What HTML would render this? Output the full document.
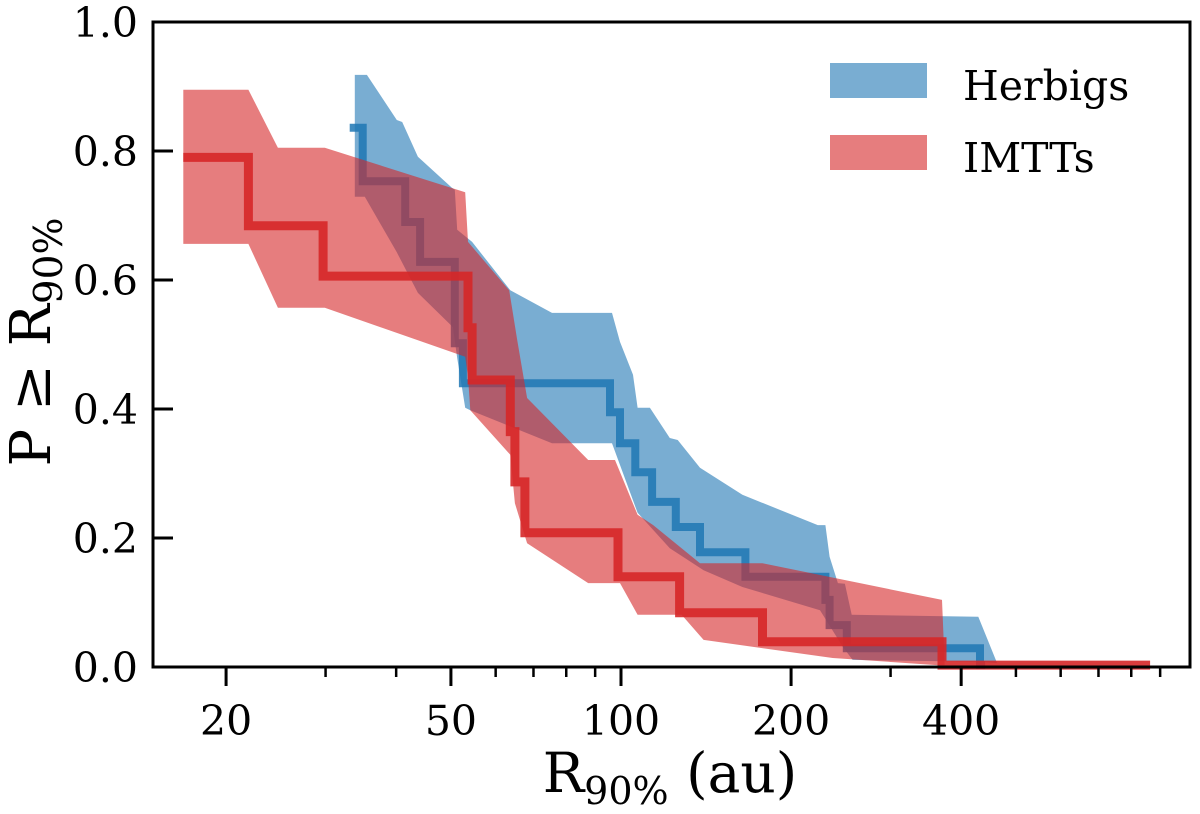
<!DOCTYPE html>
<html><head><meta charset="utf-8"><style>
html,body{margin:0;padding:0;background:#fff;}
svg text{font-family:"DejaVu Serif","Liberation Serif",serif;fill:#000;}
</style></head><body>
<svg id="chart" width="1200" height="809" viewBox="0 0 1200 809" xmlns="http://www.w3.org/2000/svg">
<g id="plot"></g>
<rect x="153" y="22" width="1037" height="645" fill="none" stroke="#000" stroke-width="3"/>
<g id="axes"></g>
<g>
<rect x="830" y="63" width="97" height="35" fill="#1f77b4" fill-opacity="0.6"/>
<text x="963" y="100" font-size="41">Herbigs</text>
<rect x="830" y="135" width="97" height="35" fill="#d62728" fill-opacity="0.6"/>
<text x="963" y="172" font-size="41">IMTTs</text>
</g>
<text x="670" y="792" font-size="55" text-anchor="middle">R<tspan font-size="38" dy="12">90%</tspan><tspan dy="-12"> (au)</tspan></text>
<text transform="translate(50,342) rotate(-90)" font-size="56" text-anchor="middle">P ≥ R<tspan font-size="39" dy="12">90%</tspan></text>
</svg>
<script>
// Step lines (x in au, y = survival value after each step)
const redStepX = [16.8, 21.9, 29.7, 53.6, 54.5, 63.7, 64.9, 67.6, 98.8, 127, 178, 370, 864];
const redStepY = [0.79, 0.684, 0.606, 0.526, 0.445, 0.365, 0.287, 0.208, 0.14, 0.084, 0.039, 0.003];
const blueStepX = [33.1, 34.9, 41.5, 44.1, 50.8, 52.5, 95.6, 99.6, 106, 113.5, 125, 138, 166, 230, 234, 251, 432, 441];
const blueStepY = [0.836, 0.753, 0.690, 0.628, 0.502, 0.440, 0.395, 0.347, 0.302, 0.256, 0.217, 0.178, 0.140, 0.104, 0.065, 0.029, 0.003];
// Confidence bands
const redUpX = [16.8, 21.9, 24.7, 29.9, 53.0, 53.6, 63.4, 65.5, 68.2, 87.5, 97.6, 107, 114, 138, 178, 370, 374];
const redUpY = [0.895, 0.895, 0.805, 0.805, 0.736, 0.659, 0.584, 0.507, 0.417, 0.321, 0.321, 0.236, 0.220, 0.161, 0.161, 0.104, 0.003];
const redLoX = [16.8, 21.9, 24.7, 29.9, 53.0, 53.6, 54.1, 63.7, 64.9, 68.2, 87.5, 99.6, 107, 128, 140, 237, 362, 374];
const redLoY = [0.656, 0.656, 0.557, 0.557, 0.481, 0.450, 0.398, 0.329, 0.254, 0.192, 0.130, 0.130, 0.081, 0.081, 0.042, 0.014, 0.003, 0.003];
const blueUpX = [33.8, 35.5, 40.1, 41.0, 43.7, 50.2, 50.8, 51.3, 54.5, 63.7, 75.5, 91.8, 96.4, 99.6, 105, 107, 112.5, 122, 126, 138, 164, 223, 230, 234, 242, 249, 256, 429, 463];
const blueUpY = [0.918, 0.918, 0.848, 0.845, 0.791, 0.743, 0.740, 0.678, 0.659, 0.584, 0.549, 0.549, 0.549, 0.504, 0.453, 0.402, 0.402, 0.355, 0.352, 0.309, 0.267, 0.220, 0.220, 0.171, 0.130, 0.129, 0.081, 0.078, 0.006];
const blueLoX = [33.8, 35.2, 40.1, 43.7, 50.4, 51.3, 53.0, 54.1, 75.5, 96.4, 107, 122, 140, 164, 225, 247, 257, 432, 463];
const blueLoY = [0.729, 0.729, 0.643, 0.580, 0.527, 0.479, 0.402, 0.398, 0.347, 0.347, 0.239, 0.184, 0.150, 0.124, 0.088, 0.031, 0.011, 0.008, 0.006];
// Ticks
const xMajorTicks = [20, 50, 100, 200, 400];
const xMinorTicks = [30, 40, 60, 70, 80, 90, 300, 500, 600, 700, 800, 900];
const yTicks = [0, 0.2, 0.4, 0.6, 0.8, 1.0];
const yTickLabels = ["0.0", "0.2", "0.4", "0.6", "0.8", "1.0"];

const NS = "http://www.w3.org/2000/svg";
const X = v => 621 + 565 * (Math.log10(v) - 2);
const Y = v => 667 - 645 * v;
const plot = document.getElementById('plot');
const axes = document.getElementById('axes');
function mk(tag, attrs, parent) {
  const e = document.createElementNS(NS, tag);
  for (const k in attrs) e.setAttribute(k, attrs[k]);
  parent.appendChild(e);
  return e;
}
function bandPath(ux, uy, lx, ly) {
  let d = '';
  ux.forEach((x, i) => { d += (i ? 'L' : 'M') + X(x).toFixed(1) + ',' + Y(uy[i]).toFixed(1); });
  for (let i = lx.length - 1; i >= 0; i--) d += 'L' + X(lx[i]).toFixed(1) + ',' + Y(ly[i]).toFixed(1);
  return d + 'Z';
}
function stepPath(xs, ys) {
  let d = 'M' + X(xs[0]).toFixed(1) + ',' + Y(ys[0]).toFixed(1);
  for (let i = 1; i < xs.length; i++) {
    d += 'L' + X(xs[i]).toFixed(1) + ',' + Y(ys[i - 1]).toFixed(1);
    if (i < ys.length) d += 'L' + X(xs[i]).toFixed(1) + ',' + Y(ys[i]).toFixed(1);
  }
  return d;
}
const bb = mk('path', {d: bandPath(blueUpX, blueUpY, blueLoX, blueLoY), fill: '#1f77b4', 'fill-opacity': 0.6}, plot);


const bl = mk('path', {d: stepPath(blueStepX, blueStepY), fill: 'none', stroke: '#1f77b4', 'stroke-opacity': 0.85, 'stroke-width': 8}, plot);


const rb = mk('path', {d: bandPath(redUpX, redUpY, redLoX, redLoY), fill: '#d62728', 'fill-opacity': 0.6}, plot);


const rl = mk('path', {d: stepPath(redStepX, redStepY), fill: 'none', stroke: '#d62728', 'stroke-opacity': 0.9, 'stroke-width': 9}, plot);



xMajorTicks.forEach(v => {
  const t = mk('line', {x1: X(v), x2: X(v), y1: 667, y2: 686, stroke: '#000', 'stroke-width': 3}, axes);
  
  
  const l = mk('text', {x: X(v), y: 735, 'font-size': 41, 'text-anchor': 'middle'}, axes);
  l.textContent = String(v);
  
  
});
xMinorTicks.forEach(v => {
  const t = mk('line', {x1: X(v), x2: X(v), y1: 667, y2: 677, stroke: '#000', 'stroke-width': 2.5}, axes);
  
  
});
yTicks.forEach((v, i) => {
  const t = mk('line', {x1: 153, x2: 173, y1: Y(v), y2: Y(v), stroke: '#000', 'stroke-width': 3}, axes);
  
  
  const l = mk('text', {x: 138, y: Y(v) + 15, 'font-size': 41, 'text-anchor': 'end'}, axes);
  l.textContent = yTickLabels[i];
  
  
});
</script>
</body></html>
